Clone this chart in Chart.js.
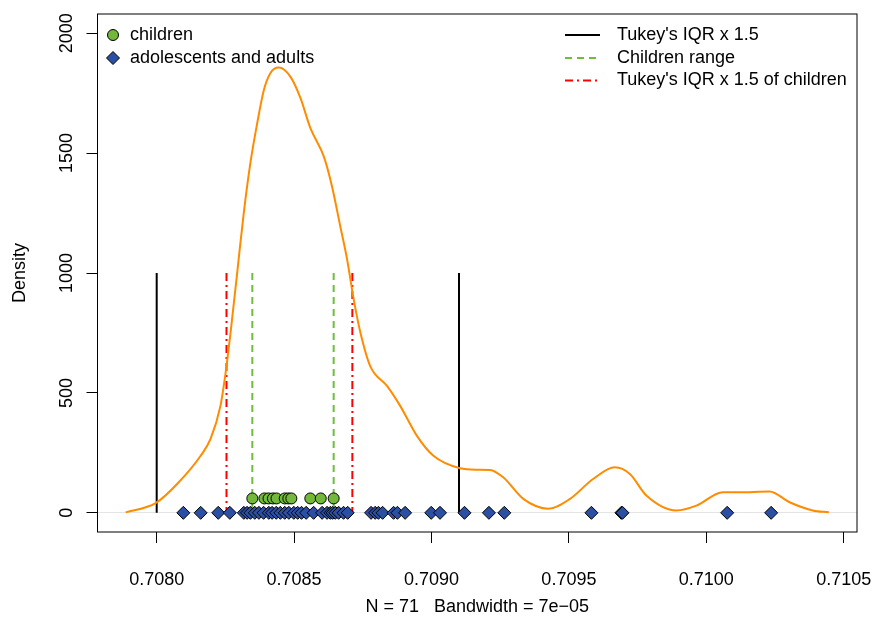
<!DOCTYPE html>
<html>
<head>
<meta charset="utf-8">
<script src="https://cdn.jsdelivr.net/npm/chart.js@4.4.1/dist/chart.umd.min.js"></script>
<style>
  html, body { margin: 0; padding: 0; background: #fff; }
</style>
</head>
<body>
<canvas id="chart" width="873" height="619"></canvas>
<script>
// kernel density estimate
const densityX = [0.707887, 0.707996, 0.708075, 0.708160, 0.708196, 0.708232, 0.708251, 0.708269,
  0.708293, 0.708317, 0.708341, 0.708366, 0.708390, 0.708414, 0.708444, 0.708487, 0.708523,
  0.708559, 0.708608, 0.708638, 0.708668, 0.708693, 0.708717, 0.708741, 0.708777, 0.708838,
  0.708886, 0.708947, 0.709007, 0.709104, 0.709165, 0.709213, 0.709261, 0.709334, 0.709425,
  0.709504, 0.709588, 0.709667, 0.709722, 0.709782, 0.709891, 0.709964, 0.710060, 0.710157,
  0.710230, 0.710303, 0.710387, 0.710446];
const densityY = [2, 40, 121, 238, 308, 446, 586, 753,
  1002, 1252, 1459, 1626, 1763, 1834, 1857, 1818, 1730,
  1605, 1486, 1361, 1195, 1056, 890, 753, 612, 529,
  446, 321, 238, 186, 180, 179, 148, 58, 17,
  58, 141, 190, 162, 72, 10, 30, 86, 86,
  89, 44, 10, 2];

const childrenX = [0.708348, 0.708392, 0.708407, 0.708423, 0.708436, 0.708466, 0.708479,
  0.708490, 0.708559, 0.708597, 0.708644];
const childrenLevel = 60;

const adultsX = [0.708097, 0.708160, 0.708224, 0.708266, 0.708317, 0.708329, 0.708341,
  0.708357, 0.708372, 0.708389, 0.708408, 0.708420, 0.708435, 0.708450, 0.708466, 0.708481,
  0.708499, 0.708513, 0.708527, 0.708544, 0.708571, 0.708602, 0.708620, 0.708632, 0.708640,
  0.708650, 0.708662, 0.708680, 0.708695, 0.708780, 0.708795, 0.708807, 0.708822, 0.708862,
  0.708876, 0.708904, 0.708999, 0.709031, 0.709120, 0.709209, 0.709265, 0.709582, 0.709691,
  0.709695, 0.710076, 0.710236];

const tukeyX = [0.70800, 0.70910];
const childRangeX = [0.708348, 0.708644];
const tukeyChildX = [0.708254, 0.708712];
const segmentTop = 1000;

const xTicks = [0.7080, 0.7085, 0.7090, 0.7095, 0.7100, 0.7105];
const yTicks = [0, 500, 1000, 1500, 2000];

const pointLabels = ["children", "adolescents and adults"];
const lineLabels = ["Tukey's IQR x 1.5", "Children range", "Tukey's IQR x 1.5 of children"];
const xTitle = "N = 71   Bandwidth = 7e\u221205";
const yTitle = "Density";

const FONT = "'Liberation Sans', Arial, Helvetica, sans-serif";
const ORANGE = "#FF8C00";
const GREEN = "#72B83A";
const BLUE = "#2B4FA3";
const RED = "#FF0000";
const GREEN_DASH = "#6DBE3C";
const greenDash = [7, 5];
const redDash = [8, 4, 2, 4];

const segment = (x) => [{ x, y: segmentTop }, { x, y: 0 }];

const lineSet = (x, color, dash) => ({
    data: segment(x),
    showLine: true,
    pointRadius: 0,
    borderColor: color,
    borderWidth: 2,
    borderDash: dash,
});

// plot box, rotated y labels and the two legends
const decorations = {
    id: "decorations",
    afterDraw(chart) {
        const { ctx, chartArea: a, scales } = chart;
        ctx.save();
        ctx.strokeStyle = "#000";
        ctx.lineWidth = 1;
        ctx.strokeRect(a.left, a.top, a.right - a.left, a.bottom - a.top);

        ctx.fillStyle = "#000";
        ctx.font = `18px ${FONT}`;
        ctx.textAlign = "center";
        ctx.textBaseline = "middle";
        yTicks.forEach((v) => {
            ctx.save();
            ctx.translate(67, scales.y.getPixelForValue(v));
            ctx.rotate(-Math.PI / 2);
            ctx.fillText(String(v), 0, 0);
            ctx.restore();
        });

        // left legend: point symbols
        ctx.textAlign = "left";
        const rowsL = [a.top + 21, a.top + 44];
        const sx = a.left + 15.5;
        ctx.lineWidth = 1;
        ctx.strokeStyle = "#000";
        ctx.beginPath();
        ctx.arc(sx, rowsL[0], 5.5, 0, Math.PI * 2);
        ctx.fillStyle = GREEN;
        ctx.fill();
        ctx.stroke();
        ctx.beginPath();
        ctx.moveTo(sx - 6.5, rowsL[1]);
        ctx.lineTo(sx, rowsL[1] - 6.5);
        ctx.lineTo(sx + 6.5, rowsL[1]);
        ctx.lineTo(sx, rowsL[1] + 6.5);
        ctx.closePath();
        ctx.fillStyle = BLUE;
        ctx.fill();
        ctx.stroke();
        ctx.fillStyle = "#000";
        pointLabels.forEach((t, i) => ctx.fillText(t, a.left + 32.5, rowsL[i]));

        // right legend: line styles
        const rowsR = [a.top + 21, a.top + 44, a.top + 66.5];
        const styles = [["#000", []], [GREEN_DASH, greenDash], [RED, redDash]];
        const x0 = a.right - 292, x1 = a.right - 257;
        styles.forEach(([c, d], i) => {
            ctx.beginPath();
            ctx.strokeStyle = c;
            ctx.lineWidth = 2;
            ctx.setLineDash(d);
            ctx.moveTo(x0, rowsR[i]);
            ctx.lineTo(x1, rowsR[i]);
            ctx.stroke();
        });
        ctx.setLineDash([]);
        lineLabels.forEach((t, i) => ctx.fillText(t, a.right - 240, rowsR[i]));
        ctx.restore();
    },
};

const ctx = document.getElementById("chart");

new Chart(ctx, {
    type: "scatter",
    data: {
        datasets: [
            {
                label: pointLabels[0],
                data: childrenX.map((x) => ({ x, y: childrenLevel })),
                pointStyle: "circle",
                pointRadius: 5.5,
                backgroundColor: GREEN,
                borderColor: "#000",
                borderWidth: 1,
            },
            {
                label: pointLabels[1],
                data: adultsX.map((x) => ({ x, y: 0 })),
                pointStyle: "rectRot",
                pointRadius: 6.5,
                backgroundColor: BLUE,
                borderColor: "#000",
                borderWidth: 1,
            },
            {
                label: "density",
                data: densityX.map((x, i) => ({ x, y: densityY[i] })),
                showLine: true,
                pointRadius: 0,
                borderColor: ORANGE,
                borderWidth: 2,
                cubicInterpolationMode: "monotone",
            },
            ...tukeyX.map((x) => lineSet(x, "#000", [])),
            ...childRangeX.map((x) => lineSet(x, GREEN_DASH, greenDash)),
            ...tukeyChildX.map((x) => lineSet(x, RED, redDash)),
        ],
    },
    options: {
        responsive: false,
        animation: false,
        layout: { padding: { left: 0, top: 14, right: 16, bottom: 0 } },
        plugins: { legend: { display: false }, tooltip: { enabled: false } },
        scales: {
            x: {
                type: "linear",
                min: 0.7077846,
                max: 0.7105484,
                afterBuildTicks: (axis) => {
                    axis.ticks = xTicks.map((v) => ({ value: v }));
                },
                afterFit: (axis) => {
                    axis.height = 87;
                    axis.paddingLeft = 0;
                    axis.paddingRight = 0;
                },
                border: { display: false },
                grid: { drawOnChartArea: false, tickLength: 11, tickColor: "#000", color: "#000" },
                ticks: {
                    color: "#000",
                    padding: 26,
                    maxRotation: 0,
                    font: { family: FONT, size: 18 },
                    callback: (v) => Number(v).toFixed(4),
                },
                title: {
                    display: true,
                    text: xTitle,
                    color: "#000",
                    font: { family: FONT, size: 18 },
                    padding: { top: 0, bottom: 1 },
                },
            },
            y: {
                min: -80,
                max: 2080,
                afterBuildTicks: (axis) => {
                    axis.ticks = yTicks.map((v) => ({ value: v }));
                },
                afterFit: (axis) => {
                    axis.width = 97.5;
                    axis.paddingTop = 0;
                    axis.paddingBottom = 0;
                },
                border: { display: false },
                grid: {
                    color: (c) => (c.tick && c.tick.value === 0 ? "#e4e4e4" : "rgba(0,0,0,0)"),
                    tickColor: "#000",
                    tickLength: 11,
                },
                ticks: { display: false },
                title: {
                    display: true,
                    text: yTitle,
                    color: "#000",
                    font: { family: FONT, size: 18 },
                    padding: { top: 9, bottom: 0 },
                },
            },
        },
    },
    plugins: [decorations],
});
</script>
</body>
</html>
